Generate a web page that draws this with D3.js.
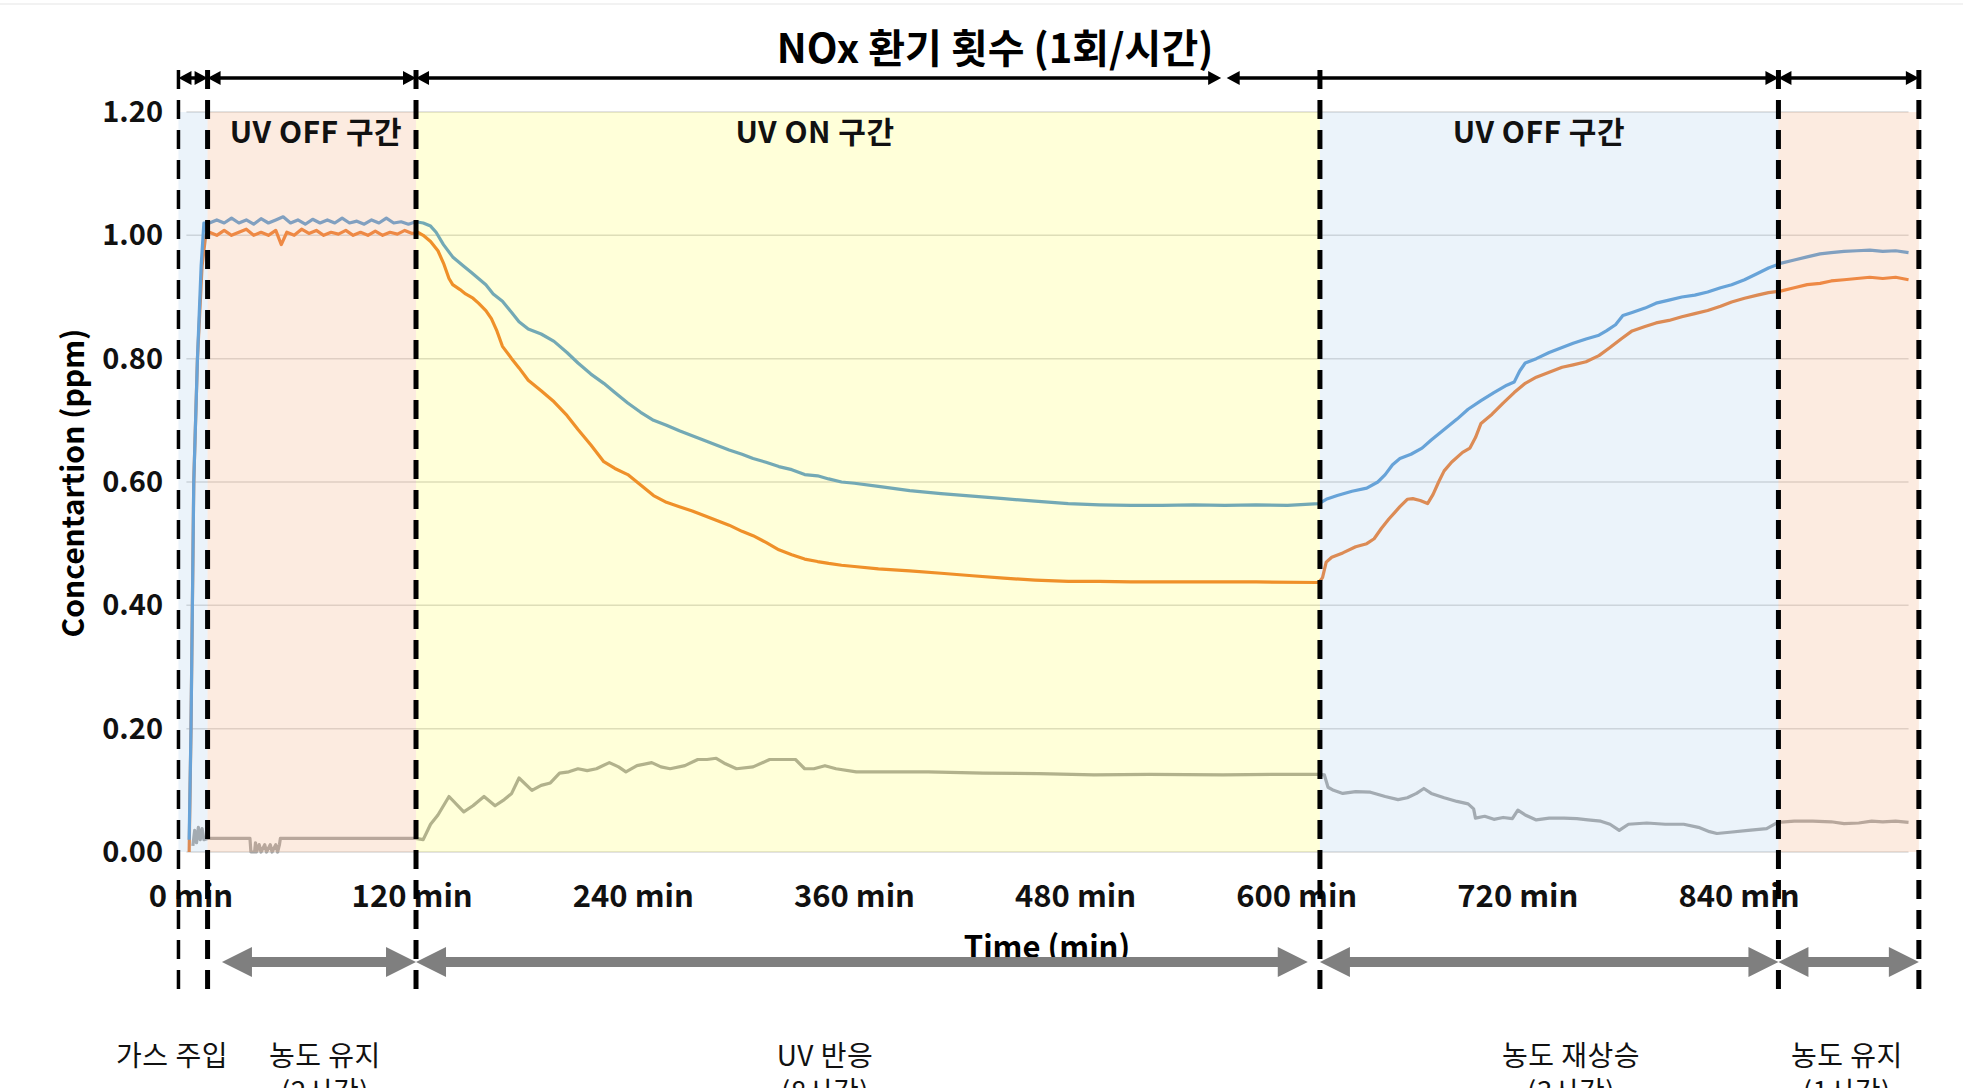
<!doctype html>
<html>
<head>
<meta charset="utf-8"/>
<title>NOx 환기 횟수 (1회/시간)</title>
<script src="https://cdnjs.cloudflare.com/ajax/libs/d3/7.8.5/d3.min.js"></script>
<style>
  body { margin: 0; background: #fff; }
  svg { display: block; font-family: "Noto Sans CJK KR", "Noto Sans", sans-serif; }
  .grid { stroke: #d9d9d9; stroke-width: 1.5px; }
  .series { fill: none; stroke-width: 3.2px; stroke-linejoin: round; }
  .tick { font-size: 29px; font-weight: bold; fill: #111; }
  .phase { stroke: #000; stroke-dasharray: 19 11; }
  .region-label { font-size: 30px; font-weight: bold; fill: #111; letter-spacing: 0.5px; }
  .stage-label { font-size: 28px; fill: #111; letter-spacing: 0.5px; }
</style>
</head>
<body>
<svg width="1963" height="1088"></svg>
<script>
// axis ticks
var yTicks = [0, 0.2, 0.4, 0.6, 0.8, 1.0, 1.2];
var xTicks = [0, 120, 240, 360, 480, 600, 720, 840];

// phase boundaries (min) and the shaded bands between them
var phaseBounds = [-6.8, 9, 122.1, 612.6, 861.4, 937.6];
var bandColors = ["#9dc3e6", "#f4b183", "#ffff00", "#9dc3e6", "#f4b183"];
var bandOpacity = [0.2, 0.25, 0.15, 0.2, 0.25];

var regionNames = ["UV OFF 구간", "UV ON 구간", "UV OFF 구간"];
var regionAt = [67.8, 338.6, 731.4];

var topArrows = [[-6.8, 9], [9, 122.1], [122.1, 559], [562, 861.4], [861.4, 937.6]];
var bottomArrows = [[16.8, 122.1], [122.1, 606], [612.6, 861.4], [861.4, 937.6]];

var stageNames = ["가스 주입", "농도 유지", "UV 반응", "농도 재상승", "농도 유지"];
var stageTimes = ["", "(2시간)", "(8시간)", "(3시간)", "(1시간)"];
var stageAt = [-10.3, 72.7, 344, 748.8, 898.5];

// measured series [min, ppm]
var blueSeries = [
  [-1,0.02],[0,0.2],[1.5,0.6],[3.5,0.8],[5.5,0.95],[7,1.02],
  [10,1.02],[14,1.025],[18,1.02],[22,1.028],[26,1.02],[30,1.025],[34,1.018],[38,1.027],[42,1.02],
  [46,1.025],[50,1.03],[54,1.02],[58,1.025],[62,1.018],[66,1.026],[70,1.02],[74,1.025],[78,1.02],
  [82,1.028],[86,1.02],[90,1.023],[94,1.018],[98,1.025],[102,1.02],[106,1.028],[110,1.02],[114,1.022],
  [118,1.018],[122,1.022],
  [126,1.02],[130,1.015],[133,1.005],[137,0.985],[142,0.965],[148,0.95],[152,0.94],[156,0.93],[160,0.92],
  [164,0.905],[169,0.893],[174,0.875],[178,0.86],[183,0.848],[190,0.84],[197,0.828],[204,0.81],[210,0.793],
  [217,0.775],[224,0.76],[230,0.745],[237,0.728],[244,0.713],[251,0.70],[258,0.692],[265,0.683],[272,0.675],
  [278,0.668],[285,0.66],[292,0.652],[299,0.645],[305,0.638],[312,0.632],[319,0.625],[326,0.62],[333,0.612],
  [340,0.61],[346,0.605],[353,0.60],[360,0.598],[373,0.593],[390,0.586],[407,0.581],[424,0.577],[441,0.573],
  [458,0.569],[476,0.565],[493,0.563],[510,0.562],[527,0.562],[544,0.563],[561,0.562],[578,0.563],[595,0.562],
  [612,0.565],
  [616,0.572],[622,0.578],[630,0.585],[638,0.59],[644,0.6],[648,0.612],[652,0.628],[656,0.638],[662,0.645],
  [668,0.655],[673,0.668],[680,0.685],[687,0.702],[693,0.718],[700,0.732],[707,0.745],[714,0.757],[718,0.762],
  [721,0.78],[724,0.793],[730,0.8],[737,0.81],[744,0.818],[750,0.825],[757,0.832],[764,0.838],[768,0.845],
  [773,0.855],[777,0.87],[782,0.875],[789,0.882],[795,0.89],[802,0.895],[809,0.9],[816,0.903],[823,0.908],
  [830,0.915],[836,0.92],[843,0.928],[850,0.938],[856,0.947],[863,0.955],[870,0.96],[877,0.965],[884,0.97],
  [890,0.972],[897,0.974],[904,0.975],[911,0.976],[918,0.974],[925,0.975],[932,0.972]
];

var orangeSeries = [
  [-1,0.0],[0,0.2],[1.5,0.6],[3.5,0.8],[6,0.95],[8,1.0],
  [10,1.005],[14,1.0],[18,1.008],[22,1.0],[26,1.005],[30,1.01],[34,1.0],[38,1.005],[42,1.0],[46,1.008],
  [49,0.985],[52,1.005],[56,1.0],[60,1.01],[64,1.003],[68,1.008],[72,1.0],[76,1.005],[80,1.002],[84,1.008],
  [88,1.0],[92,1.005],[96,1.0],[100,1.007],[104,1.0],[108,1.005],[112,1.002],[116,1.008],[120,1.003],
  [123,1.005],
  [126,1.0],[130,0.99],[134,0.975],[137,0.955],[140,0.93],[142,0.92],[146,0.912],[149,0.905],[153,0.898],
  [156,0.89],[160,0.878],[163,0.865],[166,0.845],[169,0.82],[174,0.8],[178,0.785],[183,0.765],[190,0.748],
  [197,0.73],[204,0.708],[210,0.685],[217,0.66],[224,0.633],[230,0.622],[237,0.612],[244,0.595],[251,0.578],
  [258,0.567],[265,0.56],[272,0.553],[278,0.546],[285,0.538],[292,0.53],[299,0.52],[305,0.513],[312,0.502],
  [319,0.49],[326,0.482],[333,0.475],[340,0.471],[346,0.468],[353,0.465],[360,0.463],[373,0.459],[390,0.456],
  [407,0.452],[424,0.448],[441,0.444],[458,0.441],[476,0.439],[493,0.439],[510,0.438],[544,0.438],[578,0.438],
  [612,0.437],
  [614,0.445],[616,0.47],[619,0.478],[625,0.485],[632,0.495],[638,0.5],[642,0.508],[646,0.525],[650,0.54],
  [653,0.55],[656,0.56],[660,0.572],[663,0.573],[667,0.57],[671,0.565],[674,0.58],[677,0.6],[680,0.618],
  [684,0.632],[690,0.648],[694,0.655],[697,0.672],[700,0.695],[706,0.71],[712,0.728],[718,0.745],[724,0.76],
  [730,0.77],[737,0.778],[744,0.786],[750,0.79],[757,0.795],[764,0.805],[770,0.818],[776,0.832],[782,0.845],
  [789,0.852],[795,0.858],[802,0.862],[809,0.868],[816,0.873],[823,0.878],[830,0.885],[836,0.892],[843,0.898],
  [850,0.903],[856,0.907],[863,0.91],[870,0.915],[877,0.92],[884,0.922],[890,0.926],[897,0.928],[904,0.93],
  [911,0.932],[918,0.93],[925,0.932],[932,0.928]
];

var graySeries = [
  [1,0.01],[2,0.035],[3,0.015],[4,0.04],[5,0.02],[6,0.038],[7,0.02],[9,0.022],
  [20,0.022],[32,0.022],[32.5,0.0],[34.5,0.0],[35,0.015],[35.5,0.0],[37,0.012],[38,0.0],[40,0.012],[41,0.0],
  [43,0.012],[44,0.0],[46,0.012],[47,0.0],[48,0.012],[48.5,0.022],[70,0.022],[100,0.022],[122,0.022],
  [126,0.02],[130,0.045],[134,0.06],[140,0.09],[148,0.065],[153,0.075],[159,0.09],[165,0.075],[170,0.085],
  [174,0.095],[178,0.12],[185,0.1],[190,0.108],[195,0.112],[200,0.128],[205,0.13],[210,0.135],[215,0.132],
  [220,0.135],[227,0.145],[232,0.138],[236,0.13],[242,0.14],[250,0.145],[255,0.138],[260,0.135],[268,0.14],
  [275,0.15],[280,0.15],[285,0.152],[290,0.143],[296,0.135],[305,0.138],[314,0.15],[320,0.15],[328,0.15],
  [333,0.135],[338,0.135],[344,0.14],[350,0.135],[361,0.13],[380,0.13],[400,0.13],[430,0.128],[460,0.127],
  [490,0.125],[520,0.126],[560,0.125],[590,0.126],[612,0.126],
  [615,0.125],[617,0.105],[620,0.1],[625,0.095],[632,0.098],[640,0.097],[648,0.09],[655,0.085],[660,0.088],
  [665,0.095],[669,0.103],[673,0.095],[680,0.088],[687,0.082],[693,0.078],[696,0.07],[697,0.055],[702,0.058],
  [707,0.053],[712,0.056],[717,0.054],[720,0.068],[724,0.06],[730,0.052],[737,0.055],[745,0.055],[752,0.054],
  [758,0.052],[765,0.05],[770,0.045],[775,0.035],[780,0.045],[790,0.047],[800,0.045],[810,0.045],[818,0.04],
  [824,0.033],[828,0.03],[835,0.032],[845,0.035],[855,0.038],[861,0.048],[870,0.05],[880,0.05],[890,0.049],
  [897,0.046],[905,0.047],[912,0.05],[918,0.049],[925,0.05],[932,0.048]
];

var seriesList = [
  {data: graySeries, color: "#a5a5a5"},
  {data: orangeSeries, color: "#ed7d31"},
  {data: blueSeries, color: "#5b9bd5"}
];

var svg = d3.select("svg");
svg.append("rect").attr("width", 1963).attr("height", 1088).attr("fill", "#fff");

var x = d3.scaleLinear().domain([0, 840]).range([191, 1739]);
var y = d3.scaleLinear().domain([0, 1.2]).range([852, 112]);

// faint top border
svg.append("line").attr("x1", 0).attr("x2", 1963).attr("y1", 4).attr("y2", 4)
  .attr("stroke", "#eeeeee").attr("stroke-width", 1.5);

// gridlines
svg.append("g").selectAll("line")
  .data(yTicks).enter().append("line")
  .attr("class", "grid")
  .attr("x1", x(-2.5)).attr("x2", x(932))
  .attr("y1", d => y(d)).attr("y2", d => y(d));

// series
var line = d3.line().x(d => x(d[0])).y(d => y(d[1]));
svg.append("g").selectAll("path")
  .data(seriesList).enter().append("path")
  .attr("class", "series")
  .attr("stroke", d => d.color)
  .attr("d", d => line(d.data));

// tinted bands over the plot
svg.append("g").selectAll("rect")
  .data(bandColors).enter().append("rect")
  .attr("x", (d, i) => x(phaseBounds[i]))
  .attr("width", (d, i) => x(phaseBounds[i + 1]) - x(phaseBounds[i]))
  .attr("y", y(1.2))
  .attr("height", y(0) - y(1.2))
  .attr("fill", d => d)
  .attr("fill-opacity", (d, i) => bandOpacity[i]);

// region captions
svg.append("g").selectAll("text")
  .data(regionNames).enter().append("text")
  .attr("class", "region-label")
  .attr("x", (d, i) => x(regionAt[i]))
  .attr("y", 143)
  .attr("text-anchor", "middle")
  .text(d => d);

// y tick labels
svg.append("g").selectAll("text")
  .data(yTicks).enter().append("text")
  .attr("class", "tick")
  .attr("x", 163)
  .attr("y", d => y(d) + 10)
  .attr("text-anchor", "end")
  .text(d => d3.format(".2f")(d));

// x tick labels
svg.append("g").selectAll("text")
  .data(xTicks).enter().append("text")
  .attr("class", "tick")
  .style("font-size", "31px")
  .attr("x", d => x(d))
  .attr("y", 907)
  .attr("text-anchor", "middle")
  .text(d => d + " min");

// axis titles
svg.append("text")
  .attr("transform", "translate(73,483) rotate(-90)")
  .attr("text-anchor", "middle")
  .attr("dy", "0.35em")
  .style("font-size", "30px").style("font-weight", "bold")
  .text("Concentartion (ppm)");

svg.append("text")
  .attr("x", 1047).attr("y", 958)
  .attr("text-anchor", "middle")
  .style("font-size", "31px").style("font-weight", "bold")
  .text("Time (min)");

// chart title
svg.append("text")
  .attr("x", 995).attr("y", 63)
  .attr("text-anchor", "middle")
  .style("font-size", "40px").style("font-weight", "bold")
  .text("NOx 환기 횟수 (1회/시간)");

function arrowPath(a, b, cy, t, L, h) {
  var x1 = x(a), x2 = x(b);
  return "M" + x1 + "," + cy +
    "L" + (x1 + L) + "," + (cy - h) + "L" + (x1 + L) + "," + (cy - t) +
    "L" + (x2 - L) + "," + (cy - t) + "L" + (x2 - L) + "," + (cy - h) +
    "L" + x2 + "," + cy +
    "L" + (x2 - L) + "," + (cy + h) + "L" + (x2 - L) + "," + (cy + t) +
    "L" + (x1 + L) + "," + (cy + t) + "L" + (x1 + L) + "," + (cy + h) + "Z";
}

// top black double arrows
svg.append("g").selectAll("path")
  .data(topArrows).enter().append("path")
  .attr("fill", "#000")
  .attr("d", d => arrowPath(d[0], d[1], 78, 1.8, 13, 7));

// bottom grey double arrows
svg.append("g").selectAll("path")
  .data(bottomArrows).enter().append("path")
  .attr("fill", "#7f7f7f")
  .attr("d", d => arrowPath(d[0], d[1], 962, 5, 30, 15));

// stage labels under the chart (second line runs off the bottom edge, as in the source)
svg.append("g").selectAll("text")
  .data(stageNames).enter().append("text")
  .attr("class", "stage-label")
  .attr("x", (d, i) => x(stageAt[i]))
  .attr("y", 1066)
  .attr("text-anchor", "middle")
  .text(d => d);

svg.append("g").selectAll("text")
  .data(stageTimes).enter().append("text")
  .attr("class", "stage-label")
  .attr("x", (d, i) => x(stageAt[i]))
  .attr("y", 1102)
  .attr("text-anchor", "middle")
  .text(d => d);

// dashed phase boundaries
svg.append("g").selectAll("line")
  .data(phaseBounds).enter().append("line")
  .attr("class", "phase")
  .attr("stroke-width", (d, i) => i === 0 ? 3.5 : 5)
  .attr("x1", d => x(d)).attr("x2", d => x(d))
  .attr("y1", 70).attr("y2", 995);
</script>
</body>
</html>
